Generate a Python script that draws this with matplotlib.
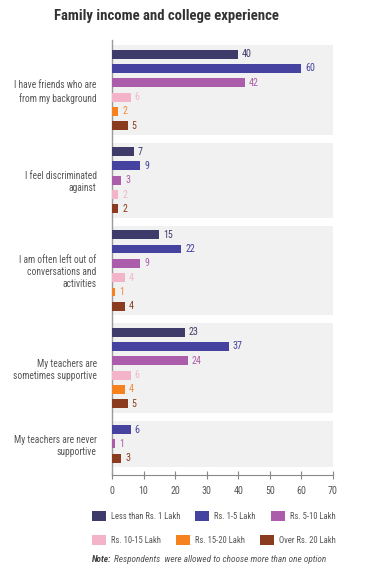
import matplotlib
matplotlib.use("Agg")
import matplotlib.pyplot as plt
from matplotlib.patches import Rectangle, Patch
from matplotlib import font_manager

names = {f.name for f in font_manager.fontManager.ttflist}
FAM = ['Roboto Condensed', 'Open Sans Condensed', 'Liberation Sans Narrow', 'Roboto']
FAM = [f for f in FAM if f in names] + ['DejaVu Sans']
plt.rcParams['font.family'] = FAM

# ---------------- data ----------------
categories = [
    "I have friends who are\nfrom my background",
    "I feel discriminated\nagainst",
    "I am often left out of\nconversations and\nactivities",
    "My teachers are\nsometimes supportive",
    "My teachers are never\nsupportive",
]
series_names = ["Less than Rs. 1 Lakh", "Rs. 1-5 Lakh", "Rs. 5-10 Lakh",
                "Rs. 10-15 Lakh", "Rs. 15-20 Lakh", "Over Rs. 20 Lakh"]
less_1 = [40, 7, 15, 23, 0]
rs_1_5 = [60, 9, 22, 37, 6]
rs_5_10 = [42, 3, 9, 24, 1]
rs_10_15 = [6, 2, 4, 6, 0]
rs_15_20 = [2, 0, 1, 4, 0]
over_20 = [5, 2, 4, 5, 3]
series = [less_1, rs_1_5, rs_5_10, rs_10_15, rs_15_20, over_20]
colors = ["#3e3a69", "#4542a0", "#ab5caa", "#f3b3c9", "#f5821f", "#8b3b1f"]
text_colors = ["#3e3a69", "#4542a0", "#ab5caa", "#f0b8cb", "#f08a3a", "#8b3b1f"]
xticks = [0, 10, 20, 30, 40, 50, 60, 70]

# ---------------- figure ----------------
W, H = 378, 577
fig = plt.figure(figsize=(W / 100, H / 100), dpi=100)
renderer = fig.canvas.get_renderer()


def fit_size(s, target_px, max_size, **kw):
    """font size such that the widest line of s is about target_px wide"""
    t = fig.text(0, 0, s, fontsize=10, **kw)
    w = t.get_window_extent(renderer).width
    t.remove()
    return min(max_size, 10 * target_px / w)


ax_l, ax_r, ax_t, ax_b = 112, 333, 40, 475
ax = fig.add_axes([ax_l / W, 1 - ax_b / H, (ax_r - ax_l) / W, (ax_b - ax_t) / H])

top_pad, pad, gap, end_pad = 0.36, 0.62, 0.55, 0.55
bar_h = 0.62
y = top_pad
group_centers = []
for gi, cat in enumerate(categories):
    panel_top = y
    yc = panel_top + pad
    centers = []
    for si, s in enumerate(series):
        v = s[gi]
        if v == 0:
            continue
        ax.barh(yc, v, height=bar_h, color=colors[si], zorder=3)
        ax.text(v + 1.2, yc, str(v), va='center', ha='left', fontsize=7.2,
                color=text_colors[si], zorder=4)
        centers.append(yc)
        yc += 1
    panel_bot = centers[-1] + pad
    ax.add_patch(Rectangle((0, panel_top), 70, panel_bot - panel_top,
                           facecolor="#f1f1f1", edgecolor='none', zorder=1))
    group_centers.append((panel_top + panel_bot) / 2)
    y = panel_bot + gap
total = y - gap + end_pad

cat_fs = fit_size("I have friends who are", 82, 7.8)
ax.set_xlim(0, 70)
ax.set_ylim(total, 0)
ax.set_yticks(group_centers)
ax.set_yticklabels(categories, fontsize=cat_fs, color="#555555", linespacing=1.25)
ax.tick_params(axis='y', length=0, pad=11)
ax.set_xticks(xticks)
ax.set_xticklabels([str(t) for t in xticks], fontsize=7.2, color="#555555")
ax.tick_params(axis='x', direction='inout', length=6, width=0.8, color="#888888", pad=5)
for sp in ['top', 'right']:
    ax.spines[sp].set_visible(False)
ax.spines['left'].set_color("#9a9a9a")
ax.spines['left'].set_linewidth(1.0)
ax.spines['bottom'].set_color("#888888")
ax.spines['bottom'].set_linewidth(0.8)
ax.set_facecolor('none')

title = "Family income and college experience"
title_fs = fit_size(title, 226, 11.5, fontweight='bold')
fig.text(166 / W, 1 - 16 / H, title,
         ha='center', va='center', fontsize=title_fs, fontweight='bold', color="#333333")

# legend
leg_fs = fit_size("Less than Rs. 1 Lakh", 70, 7.6)
em = leg_fs * 100 / 72.0


def make_leg(idx, ypix):
    handles = [Patch(facecolor=colors[i], edgecolor='none') for i in idx]
    labels = [series_names[i] for i in idx]
    return fig.legend(handles, labels, ncol=3, loc='center left',
                      bbox_to_anchor=(92 / W, 1 - ypix / H), frameon=False,
                      fontsize=leg_fs, handlelength=14 / em, handleheight=13 / em,
                      handletextpad=5 / em, columnspacing=15 / em, borderaxespad=0,
                      borderpad=0.0, labelcolor="#555555")


make_leg([0, 1, 2], 516)
make_leg([3, 4, 5], 540)

note = "Respondents  were allowed to choose more than one option"
note_fs = fit_size("Note: " + note, 233, 7.2, fontstyle='italic')
t1 = fig.text(92 / W, 1 - 560 / H, "Note:", fontsize=note_fs, fontweight='bold',
              fontstyle='italic', color="#444444", va='center', ha='left')
fig.canvas.draw()
bb = t1.get_window_extent()
fig.text((bb.x1 + 3) / W, 1 - 560 / H, note,
         fontsize=note_fs, fontstyle='italic', color="#555555", va='center', ha='left')

fig.savefig("out.png", dpi=100)
